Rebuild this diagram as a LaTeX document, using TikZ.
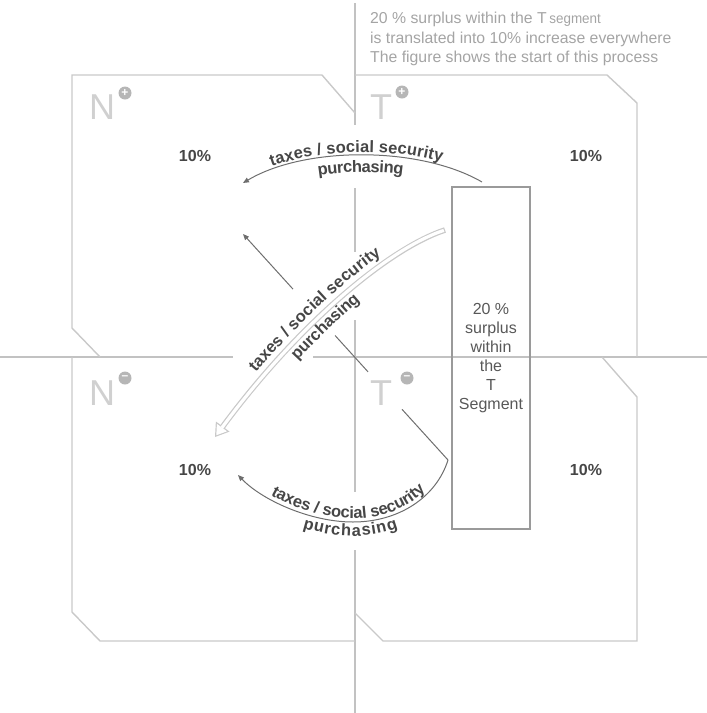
\documentclass[tikz,border=0pt]{standalone}
\usepackage{fontspec}
\setmainfont{Liberation Sans}
\usetikzlibrary{arrows.meta,calc,decorations.text}

\definecolor{framegray}{HTML}{C9C9C9}
\definecolor{axisgray}{HTML}{C2C2C2}
\definecolor{labelgray}{HTML}{D0D0D0}
\definecolor{signgray}{HTML}{B6B6B6}
\definecolor{notegray}{HTML}{A4A4A4}
\definecolor{inkgray}{HTML}{464646}
\definecolor{flowgray}{HTML}{6E6E6E}
\definecolor{boxgray}{HTML}{9A9A9A}

\newcommand\flowfont{\bfseries\fontsize{16.5}{16.5}\selectfont}

\tikzset{
  frameline/.style={draw=framegray, line width=1.4pt},
  axisline/.style={draw=axisgray, line width=1.1pt},
  flow/.style={draw=flowgray, line width=1pt},
  flowtext/.style n args={3}{postaction={decorate, decoration={text along path,
      text align={#1}, raise=#2, text color=inkgray, text={|\flowfont|#3}}}},
  quadlabel/.style={text=labelgray, inner sep=0pt, anchor=base west,
      font=\fontsize{36}{36}\selectfont},
  signdot/.style={circle, fill=signgray, text=white, minimum size=13pt, inner sep=0pt,
      font=\bfseries\fontsize{12}{12}\selectfont},
  share/.style={text=inkgray, font=\bfseries\fontsize{16}{16}\selectfont},
  surplusbox/.style={draw=boxgray, line width=1.1pt, minimum width=78pt, minimum height=342pt,
      inner sep=0pt, align=center, text=inkgray!90, font=\fontsize{16}{19}\selectfont},
  note/.style={text=notegray, inner sep=0pt, anchor=base west,
      font=\fontsize{15.8}{15.8}\selectfont},
  hollowout/.style={draw=framegray, line width=5.6pt,
      -{Triangle[length=13pt,width=17pt,line width=0pt]}},
  hollowin/.style={draw=white, line width=3.2pt, shorten <=1.2pt, shorten >=2.2pt,
      -{Triangle[length=9.5pt,width=12.5pt,line width=0pt]}},
  flowtip/.tip={Triangle[length=6pt,width=5pt]}
}

\begin{document}
\begin{tikzpicture}[x=1pt,y=-1pt]
  % Definitions
  \pgfmathsetmacro{\xmid}{355}
  \pgfmathsetmacro{\ymid}{357}
  \useasboundingbox (0,0) rectangle (707,713);

  % axes, broken where the labels cross them
  \draw[axisline] (\xmid,3) -- (\xmid,125);
  \draw[axisline] (\xmid,188) -- (\xmid,252);
  \draw[axisline] (\xmid,320) -- (\xmid,492);
  \draw[axisline] (\xmid,550) -- (\xmid,713);
  \draw[axisline] (0,\ymid) -- (233,\ymid);
  \draw[axisline] (313,\ymid) -- (707,\ymid);

  % quadrant frames
  \draw[frameline] (\xmid,113) -- (322,75) -- (72,75) -- (72,328) -- (100,\ymid);
  \draw[frameline] (\xmid,75) -- (607,75) -- (637,103) -- (637,\ymid);
  \draw[frameline] (72,\ymid) -- (72,612) -- (100,641) -- (\xmid,641);
  \draw[frameline] (602,\ymid) -- (637,397) -- (637,641) -- (383,641) -- (\xmid,613);

  % quadrant labels
  \node[quadlabel] (nplus) at (89,119) {N};
  \node[signdot] (nplussign) at (125,93) {+};
  \node[quadlabel] (tplus) at (370,119) {T};
  \node[signdot] (tplussign) at (402,92) {+};
  \node[quadlabel] (nminus) at (89,405) {N};
  \node[signdot] (nminussign) at (125,378) {–};
  \node[quadlabel] (tminus) at (370,405) {T};
  \node[signdot] (tminussign) at (407,378) {–};

  % shares
  \node[share] (nplusshare) at (195,156) {10\%};
  \node[share] (tplusshare) at (586,156) {10\%};
  \node[share] (nminusshare) at (195,470) {10\%};
  \node[share] (tminusshare) at (586,470) {10\%};

  % surplus box
  \node[surplusbox] (surplus) at (491,358) {20 \%\\surplus\\within\\the\\T\\Segment};

  % note
  \node[note] (note1) at (370,23) {20 \% surplus within the T\,\scalebox{.85}[.9]{segment}};
  \node[note] (note2) at (370,43) {is translated into 10\% increase everywhere};
  \node[note] (note3) at (370,62) {The figure shows the start of this process};

  % flows
  \coordinate (uptip) at (243,183);
  \coordinate (upstart) at (482,182);
  \coordinate (lowtip) at (238,475);
  \coordinate (bend) at (448,460);
  \coordinate (diagtip) at (243,234);
  \coordinate (hstart) at (445,230);
  \coordinate (htip) at (215,437);

  \draw[flow, flowtip-, flowtext={align=center, right indent=12pt}{3pt}{taxes / social security},
    flowtext={align=center, right indent=4pt}{-17pt}{purchasing}]
    (uptip) .. controls (305,146) and (420,146) .. (upstart);

  \draw[flow, flowtip-, flowtext={center}{3.5pt}{taxes / social security},
    flowtext={center}{-14pt}{purchasing}]
    (lowtip) .. controls (262,500) and (310,522) .. (353,522)
    .. controls (398,522) and (436,498) .. (bend);

  \draw[flow] (bend) -- ($(bend)!0.224!(diagtip)$);
  \draw[flow] ($(bend)!0.39!(diagtip)$) -- ($(bend)!0.551!(diagtip)$);
  \draw[flow, -flowtip] ($(bend)!0.756!(diagtip)$) -- (diagtip);

  % hollow arrow
  \draw[hollowout] (hstart) .. controls (390,248) and (300,322) .. (htip);
  \draw[hollowin] (hstart) .. controls (390,248) and (300,322) .. (htip);
  \path[flowtext={align=center, left indent=8pt}{8pt}{taxes / social security},
    flowtext={center}{-15pt}{purchasing}]
    (htip) .. controls (300,322) and (390,248) .. (hstart);
\end{tikzpicture}
\end{document}
